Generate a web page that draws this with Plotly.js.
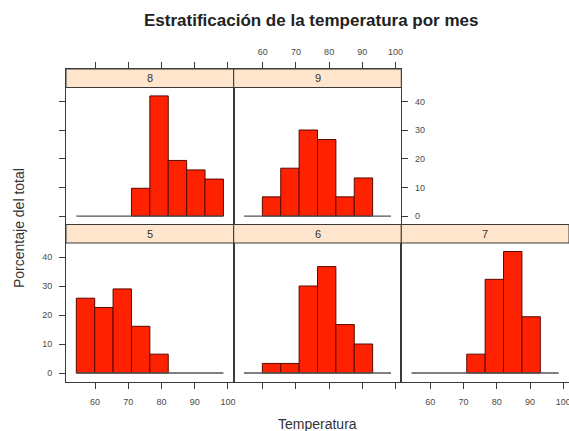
<!DOCTYPE html>
<html>
<head>
<meta charset="utf-8">
<script src="https://cdn.plot.ly/plotly-3.0.1.min.js"></script>
<style>html,body{margin:0;padding:0;background:#fff;}#chart{width:569px;height:431px;}</style>
</head>
<body>
<div id="chart"></div>
<script>
// ---- data ----
const breaks = [54.36, 59.895, 65.43, 70.965, 76.5, 82.035, 87.57, 93.105, 98.64];
const months = ['5', '6', '7', '8', '9'];
const pct5 = [25.8, 22.6, 29.0, 16.1, 6.5, 0, 0, 0];
const pct6 = [0, 3.3, 3.3, 30.0, 36.7, 16.7, 10.0, 0];
const pct7 = [0, 0, 0, 6.5, 32.3, 41.9, 19.4, 0];
const pct8 = [0, 0, 0, 9.7, 41.9, 19.4, 16.1, 12.9];
const pct9 = [0, 6.7, 16.7, 30.0, 26.7, 6.7, 13.3, 0];
const xTicks = [60, 70, 80, 90, 100];
const yTicks = [0, 10, 20, 30, 40];
const titleText = 'Estratificación de la temperatura por mes';
const xTitle = 'Temperatura';
const yTitle = 'Porcentaje del total';

// ---- layout geometry (pixels) ----
const W = 569, H = 431;
const cols = [[66, 233.7], [233.7, 401.3], [401.3, 569]];
const rows = { top: { strip: 69, panel: 87.5, bottom: 224.5 }, bot: { strip: 224.5, panel: 243, bottom: 381.5 } };
const place = { '5': [0, 'bot'], '6': [1, 'bot'], '7': [2, 'bot'], '8': [0, 'top'], '9': [1, 'top'] };
const series = { '5': pct5, '6': pct6, '7': pct7, '8': pct8, '9': pct9 };

const px = x => x / W;
const py = y => 1 - y / H;

const xmin = breaks[0], xmax = breaks[breaks.length - 1];
const xpad = (xmax - xmin) * 0.07;
const xRange = [xmin - xpad, xmax + xpad];
const allMax = Math.max(...pct5, ...pct6, ...pct7, ...pct8, ...pct9);
const ypad = allMax * 0.07;

const mids = breaks.slice(0, -1).map((b, i) => (b + breaks[i + 1]) / 2);
const widths = breaks.slice(0, -1).map((b, i) => breaks[i + 1] - b);

const frame = '#3a3a3a';
const tickFont = { family: 'Liberation Sans, Arial, sans-serif', size: 9, color: '#4a4a4a' };

const traces = [];
const layout = {
  width: W, height: H,
  margin: { l: 0, r: 0, t: 0, b: 0 },
  paper_bgcolor: '#fff', plot_bgcolor: 'rgba(0,0,0,0)',
  showlegend: false,
  shapes: [], annotations: []
};

months.forEach((m, i) => {
  const [c, r] = place[m];
  const row = rows[r];
  const k = i + 1;
  const xa = 'x' + k, ya = 'y' + k;
  const panelH = row.bottom - row.panel;
  const stripH = row.panel - row.strip;
  const yLo = -ypad, yHiPanel = allMax + ypad;
  const yHi = yHiPanel + stripH * (yHiPanel - yLo) / panelH;
  const vals = series[m];

  traces.push({
    type: 'scatter', mode: 'lines', xaxis: xa, yaxis: ya,
    x: [xmin, xmax], y: [0, 0],
    line: { color: '#555', width: 1.3 }, hoverinfo: 'skip'
  });
  traces.push({
    type: 'bar', xaxis: xa, yaxis: ya,
    x: mids.filter((_, j) => vals[j] > 0),
    y: vals.filter(v => v > 0),
    width: widths.filter((_, j) => vals[j] > 0),
    marker: { color: '#FF2200', line: { color: '#5a0800', width: 1 } },
    hoverinfo: 'skip'
  });

  const isTop = r === 'top';
  const xAxis = {
    domain: [px(cols[c][0]), px(cols[c][1])],
    range: xRange, anchor: ya,
    showgrid: false, zeroline: false,
    showline: true, mirror: true, linecolor: frame, linewidth: 1,
    tickvals: xTicks, ticktext: xTicks.map(String),
    ticks: 'outside', ticklen: 6, tickcolor: frame, tickwidth: 1,
    tickfont: tickFont, side: isTop ? 'top' : 'bottom',
    ticklabelstandoff: isTop ? 3 : 6, ticklabeloverflow: 'allow',
    showticklabels: false, fixedrange: true
  };
  if (isTop && c === 1) xAxis.showticklabels = true;
  if (!isTop && (c === 0 || c === 2)) xAxis.showticklabels = true;

  const yAxis = {
    domain: [py(row.bottom), py(row.strip)],
    range: [yLo, yHi], anchor: xa,
    showgrid: false, zeroline: false,
    showline: true, mirror: true, linecolor: frame, linewidth: 1,
    tickvals: yTicks, ticktext: yTicks.map(String),
    ticks: '', ticklen: 6, tickcolor: frame, tickwidth: 1,
    tickfont: tickFont, showticklabels: false, fixedrange: true,
    ticklabelstandoff: 5
  };
  if (c === 0) { yAxis.ticks = 'outside'; yAxis.side = 'left'; yAxis.showticklabels = !isTop; }
  if (isTop && c === 1) { yAxis.ticks = 'outside'; yAxis.side = 'right'; yAxis.showticklabels = true; }

  layout['xaxis' + k] = xAxis;
  layout['yaxis' + k] = yAxis;

  layout.shapes.push({
    type: 'rect', xref: 'paper', yref: 'paper', layer: 'above',
    x0: px(cols[c][0]), x1: px(cols[c][1]), y0: py(row.panel), y1: py(row.strip),
    fillcolor: '#FFE5CC', line: { color: frame, width: 1 }
  });
  layout.annotations.push({
    xref: 'paper', yref: 'paper', showarrow: false,
    x: px((cols[c][0] + cols[c][1]) / 2), y: py((row.strip + row.panel) / 2),
    xanchor: 'center', yanchor: 'middle', text: m,
    font: { family: 'Liberation Sans, Arial, sans-serif', size: 11, color: '#333' }
  });
});

layout.annotations.push({
  xref: 'paper', yref: 'paper', showarrow: false,
  x: px(311), y: py(20), xanchor: 'center', yanchor: 'middle',
  text: '<b>' + titleText + '</b>',
  font: { family: 'Liberation Sans, Arial, sans-serif', size: 17, color: '#222' }
});
layout.annotations.push({
  xref: 'paper', yref: 'paper', showarrow: false,
  x: px(317), y: py(424), xanchor: 'center', yanchor: 'middle',
  text: xTitle,
  font: { family: 'Liberation Sans, Arial, sans-serif', size: 14, color: '#333' }
});
layout.annotations.push({
  xref: 'paper', yref: 'paper', showarrow: false,
  x: px(19), y: py(228), xanchor: 'center', yanchor: 'middle', textangle: -90,
  text: yTitle,
  font: { family: 'Liberation Sans, Arial, sans-serif', size: 14, color: '#333' }
});

Plotly.newPlot('chart', traces, layout, { staticPlot: true, displayModeBar: false });
</script>
</body>
</html>
